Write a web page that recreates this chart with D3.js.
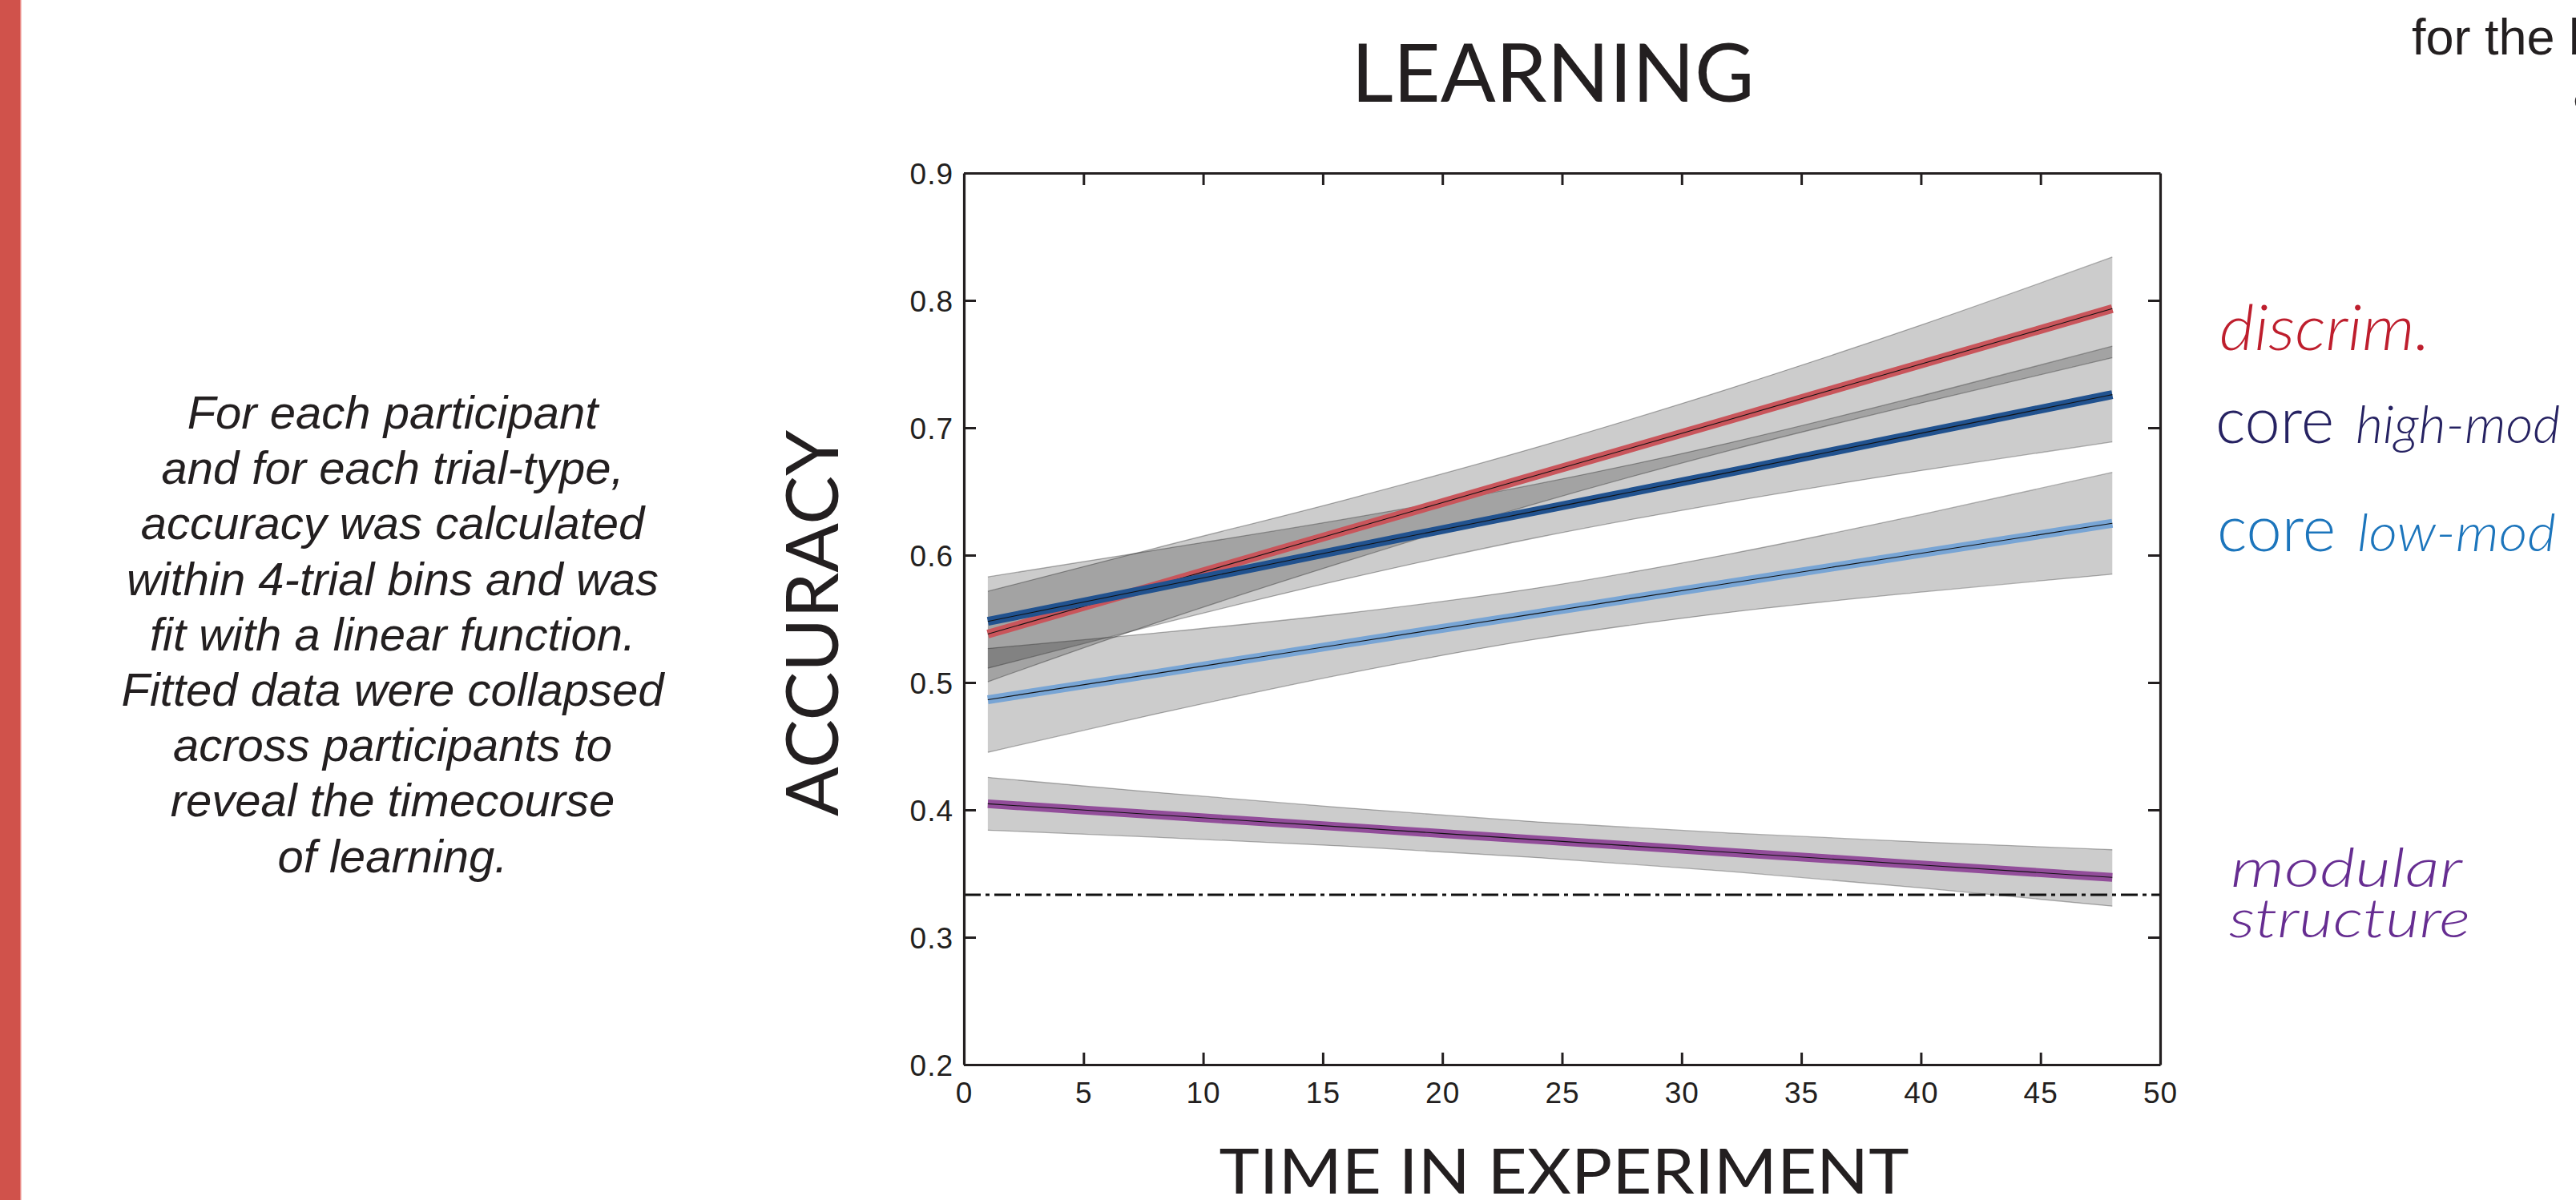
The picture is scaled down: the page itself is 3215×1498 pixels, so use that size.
<!DOCTYPE html>
<html>
<head>
<meta charset="utf-8">
<script src="https://cdn.jsdelivr.net/npm/d3@7"></script>
<style>
  html, body { margin: 0; padding: 0; background: #ffffff; overflow: hidden; }
  svg { display: block; }
</style>
</head>
<body>
<svg id="chart" width="3215" height="1498"></svg>
<script>
// ---------------- DATA ----------------
const timePoints   = [1, 8, 16, 24, 32, 40, 48];

const discrimMean  = [0.538, 0.576, 0.6195, 0.663, 0.7065, 0.750, 0.7935];
const discrimUpper = [0.5716, 0.6055, 0.6437, 0.685, 0.7308, 0.7806, 0.834];
const discrimLower = [0.5006, 0.5466, 0.5953, 0.641, 0.6822, 0.7194, 0.755];

const highModMean  = [0.548, 0.5745, 0.605, 0.635, 0.665, 0.6957, 0.726];
const highModUpper = [0.5829, 0.6039, 0.6285, 0.656, 0.6882, 0.725, 0.764];
const highModLower = [0.5112, 0.5451, 0.5815, 0.614, 0.6418, 0.6664, 0.689];

const lowModMean   = [0.4865, 0.507, 0.5307, 0.5543, 0.578, 0.6014, 0.625];
const lowModUpper  = [0.5267, 0.5388, 0.5544, 0.5743, 0.6009, 0.6318, 0.665];
const lowModLower  = [0.4452, 0.4752, 0.507, 0.5343, 0.5551, 0.571, 0.5851];

const modularMean  = [0.4048, 0.3962, 0.3864, 0.3765, 0.3667, 0.3568, 0.347];
const modularUpper = [0.4255, 0.4138, 0.4015, 0.3905, 0.3818, 0.3748, 0.3687];
const modularLower = [0.3841, 0.3786, 0.3714, 0.3625, 0.3517, 0.3388, 0.3244];

const chanceLevel  = 0.3333;

const seriesNames  = ["discrim.", "core high-mod", "core low-mod", "modular structure"];
const xTickValues  = [0, 5, 10, 15, 20, 25, 30, 35, 40, 45, 50];
const yTickValues  = [0.2, 0.3, 0.4, 0.5, 0.6, 0.7, 0.8, 0.9];

const titleText    = "LEARNING";
const xLabelText   = "TIME IN EXPERIMENT";
const yLabelText   = "ACCURACY";
const noteLines    = [
  "For each participant",
  "and for each trial-type,",
  "accuracy was calculated",
  "within 4-trial bins and was",
  "fit with a linear function.",
  "Fitted data were collapsed",
  "across participants to",
  "reveal the timecourse",
  "of learning."
];

// ---------------- STYLES / LAYOUT ----------------
const svg = d3.select("#chart");
const plot = { left: 1203, right: 2696, top: 216, bottom: 1329 };

const x = d3.scaleLinear().domain([0, 50]).range([plot.left, plot.right]);
const y = d3.scaleLinear().domain([0.2, 0.9]).range([plot.bottom, plot.top]);

const series = [
  { name: seriesNames[0], mean: discrimMean, upper: discrimUpper, lower: discrimLower, color: "#c9555b" },
  { name: seriesNames[1], mean: highModMean, upper: highModUpper, lower: highModLower, color: "#21528f" },
  { name: seriesNames[2], mean: lowModMean,  upper: lowModUpper,  lower: lowModLower,  color: "#78a5d5" },
  { name: seriesNames[3], mean: modularMean, upper: modularUpper, lower: modularLower, color: "#924d9a" }
];

// left red bar
svg.append("rect").attr("x", 0).attr("y", 0).attr("width", 25).attr("height", 1498).attr("fill", "#d0524b");
svg.append("rect").attr("x", 25).attr("y", 0).attr("width", 1.5).attr("height", 1498).attr("fill", "#e98a86");

// ---------------- bands ----------------
const area = d3.area()
  .x((d, i) => x(timePoints[i]))
  .y0(d => y(d.lo))
  .y1(d => y(d.hi))
  .curve(d3.curveMonotoneX);

const edge = d3.line()
  .x((d, i) => x(timePoints[i]))
  .y(d => y(d))
  .curve(d3.curveMonotoneX);

const bandG = svg.append("g");
series.forEach(s => {
  const pts = timePoints.map((t, i) => ({ lo: s.lower[i], hi: s.upper[i] }));
  bandG.append("path").attr("d", area(pts)).attr("fill", "#000").attr("fill-opacity", 0.2);
});
series.forEach(s => {
  [s.upper, s.lower].forEach(arr => {
    bandG.append("path").attr("d", edge(arr)).attr("fill", "none")
      .attr("stroke", "#000").attr("stroke-opacity", 0.3).attr("stroke-width", 1.3);
  });
});

// ---------------- mean lines ----------------
const lineG = svg.append("g");
[0, 1, 2, 3].forEach(k => {
  const s = series[k];
  lineG.append("path").attr("d", edge(s.mean)).attr("fill", "none")
    .attr("stroke", s.color).attr("stroke-width", 11).attr("stroke-linecap", "butt");
  lineG.append("path").attr("d", edge(s.mean)).attr("fill", "none")
    .attr("stroke", "#111").attr("stroke-width", 1.1);
});

// chance line
svg.append("line")
  .attr("x1", x(0)).attr("x2", x(50))
  .attr("y1", y(chanceLevel)).attr("y2", y(chanceLevel))
  .attr("stroke", "#111").attr("stroke-width", 3)
  .attr("stroke-dasharray", "21,6,5,6");

// ---------------- axes (box with inward ticks) ----------------
const tickFont = "'Liberation Sans', Arial, Helvetica, sans-serif";
const axisColor = "#231f20";

const bottomAxis = d3.axisBottom(x).tickValues(xTickValues).tickSizeInner(-15).tickSizeOuter(0).tickPadding(22).tickFormat(d3.format("d"));
const topAxis = d3.axisTop(x).tickValues(xTickValues.slice(1, -1)).tickSizeInner(-15).tickSizeOuter(0).tickFormat("");
const leftAxis = d3.axisLeft(y).tickValues(yTickValues).tickSizeInner(-15).tickSizeOuter(0).tickPadding(13).tickFormat(d3.format(".1f"));
const rightAxis = d3.axisRight(y).tickValues(yTickValues.slice(1, -1)).tickSizeInner(-15).tickSizeOuter(0).tickFormat("");

function styleAxis(g) {
  g.select(".domain").attr("stroke", axisColor).attr("stroke-width", 3.2);
  g.selectAll(".tick line").attr("stroke", axisColor).attr("stroke-width", 3);
  g.selectAll(".tick text").attr("fill", "#231f20").style("font-family", tickFont)
    .style("font-size", "37px").style("letter-spacing", "1px");
}

svg.append("g").attr("transform", `translate(0,${plot.bottom})`).call(bottomAxis).call(styleAxis)
  .selectAll(".tick text").attr("dy", "0.71em");
svg.append("g").attr("transform", `translate(0,${plot.top})`).call(topAxis).call(styleAxis);
svg.append("g").attr("transform", `translate(${plot.left},0)`).call(leftAxis).call(styleAxis)
  .selectAll(".tick text").attr("dy", "0.36em");
svg.append("g").attr("transform", `translate(${plot.right},0)`).call(rightAxis).call(styleAxis);

// ---------------- titles ----------------
const headFont = "Lato, 'Open Sans', sans-serif";
svg.append("text").attr("x", 1938).attr("y", 127).attr("text-anchor", "middle")
  .attr("textLength", 503).attr("lengthAdjust", "spacingAndGlyphs")
  .style("font-family", headFont).style("font-size", "100px").attr("fill", "#231f20")
  .text(titleText);

svg.append("text").attr("x", 1952).attr("y", 1490).attr("text-anchor", "middle")
  .attr("textLength", 861).attr("lengthAdjust", "spacingAndGlyphs")
  .style("font-family", headFont).style("font-size", "78px").attr("fill", "#231f20")
  .text(xLabelText);

svg.append("text").attr("transform", "translate(1046,778) rotate(-90)").attr("text-anchor", "middle")
  .attr("textLength", 482).attr("lengthAdjust", "spacingAndGlyphs")
  .style("font-family", headFont).style("font-size", "92px").attr("fill", "#231f20")
  .text(yLabelText);

// ---------------- legend labels ----------------
const legFont = "Lato, 'Open Sans', sans-serif";
svg.append("text").attr("x", 2770).attr("y", 437)
  .style("font-family", legFont).style("font-style", "italic").style("font-weight", 300).style("font-size", "78px")
  .attr("fill", "#be1e2d").attr("textLength", 263).attr("lengthAdjust", "spacingAndGlyphs")
  .text(seriesNames[0]);

const hm = seriesNames[1].split(" ");
svg.append("text").attr("x", 2765).attr("y", 553)
  .style("font-family", legFont).style("font-weight", 300).style("font-size", "80px").attr("fill", "#262262")
  .attr("textLength", 148).attr("lengthAdjust", "spacingAndGlyphs").text(hm[0]);
svg.append("text").attr("x", 2940).attr("y", 553)
  .style("font-family", legFont).style("font-style", "italic").style("font-weight", 300).style("font-size", "66px").attr("fill", "#262262")
  .text(hm[1]);

const lm = seriesNames[2].split(" ");
svg.append("text").attr("x", 2767).attr("y", 688)
  .style("font-family", legFont).style("font-weight", 300).style("font-size", "80px").attr("fill", "#1c75bc")
  .attr("textLength", 148).attr("lengthAdjust", "spacingAndGlyphs").text(lm[0]);
svg.append("text").attr("x", 2942).attr("y", 688)
  .style("font-family", legFont).style("font-style", "italic").style("font-weight", 300).style("font-size", "66px").attr("fill", "#1c75bc")
  .attr("textLength", 248).attr("lengthAdjust", "spacingAndGlyphs").text(lm[1]);

const ms = seriesNames[3].split(" ");
svg.append("text").attr("x", 2784).attr("y", 1107)
  .style("font-family", legFont).style("font-style", "italic").style("font-weight", 300).style("font-size", "68px").attr("fill", "#662d91")
  .attr("textLength", 289).attr("lengthAdjust", "spacingAndGlyphs").text(ms[0]);
svg.append("text").attr("x", 2782).attr("y", 1170)
  .style("font-family", legFont).style("font-style", "italic").style("font-weight", 300).style("font-size", "68px").attr("fill", "#662d91")
  .attr("textLength", 301).attr("lengthAdjust", "spacingAndGlyphs").text(ms[1]);

// ---------------- side note ----------------
const noteFont = "'Liberation Sans', Arial, Helvetica, sans-serif";
const note = svg.append("text").attr("text-anchor", "middle")
  .style("font-family", noteFont).style("font-style", "italic").style("font-size", "58px").attr("fill", "#231f20");
noteLines.forEach((ln, i) => {
  note.append("tspan").attr("x", 490).attr("y", 535 + i * 69.2).text(ln);
});

// ---------------- clipped text at top right ----------------
svg.append("text").attr("x", 3010).attr("y", 68)
  .style("font-family", noteFont).style("font-size", "63px").attr("fill", "#231f20")
  .text("for the b");
svg.append("text").attr("x", 3211).attr("y", 136)
  .style("font-family", noteFont).style("font-size", "63px").attr("fill", "#231f20")
  .text("a");
</script>
</body>
</html>
